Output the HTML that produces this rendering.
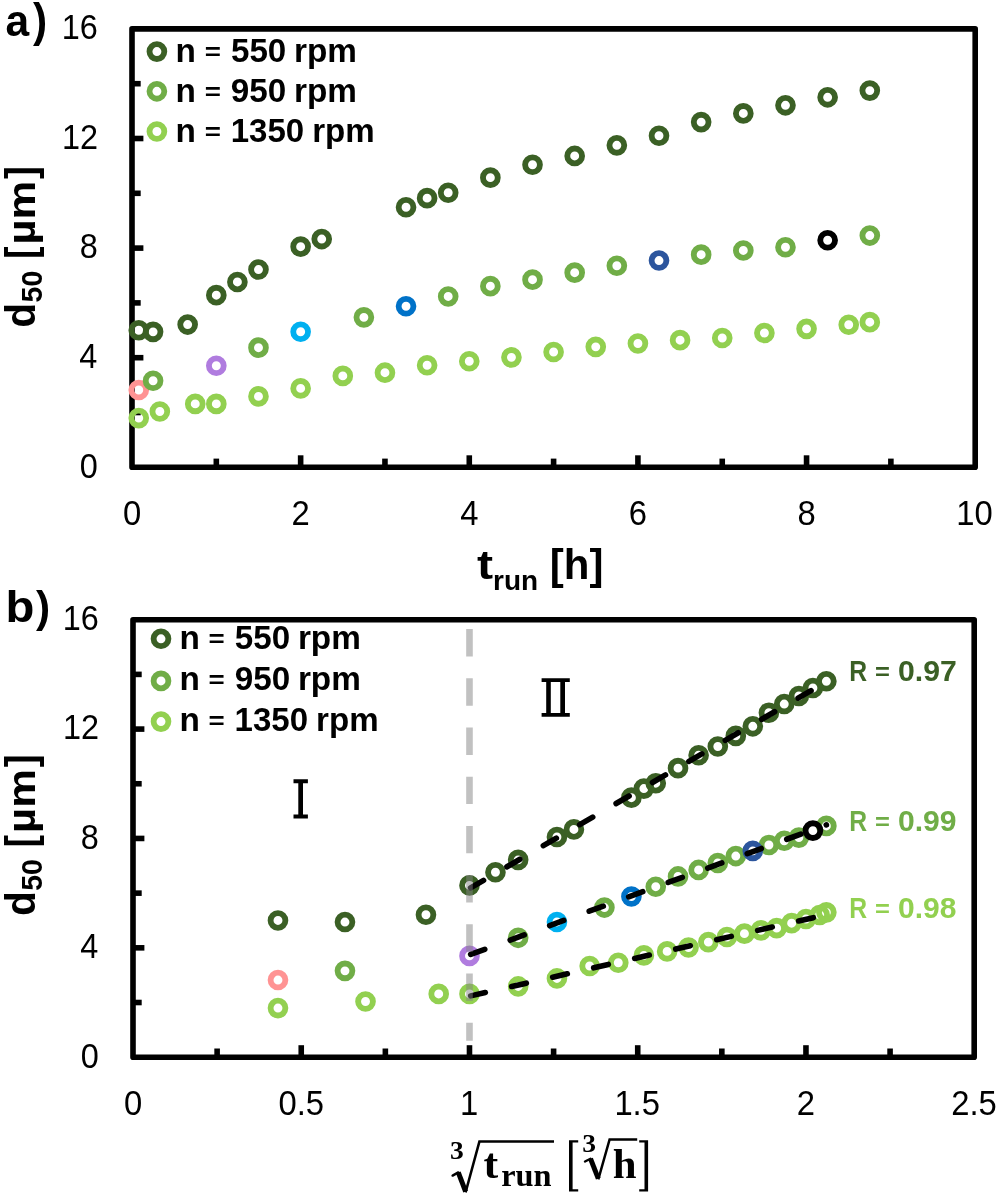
<!DOCTYPE html><html><head><meta charset="utf-8"><style>html,body{margin:0;padding:0;background:#fff;}svg{display:block;will-change:transform;}</style></head><body><svg width="997" height="1194" viewBox="0 0 997 1194" style="font-kerning:none">
<rect width="997" height="1194" fill="#fff"/>
<line x1="132.00" y1="412.50" x2="140.70" y2="412.50" stroke="#000" stroke-width="5.6"/>
<line x1="132.00" y1="357.70" x2="143.40" y2="357.70" stroke="#000" stroke-width="5.6"/>
<line x1="132.00" y1="302.90" x2="140.70" y2="302.90" stroke="#000" stroke-width="5.6"/>
<line x1="132.00" y1="248.10" x2="143.40" y2="248.10" stroke="#000" stroke-width="5.6"/>
<line x1="132.00" y1="193.30" x2="140.70" y2="193.30" stroke="#000" stroke-width="5.6"/>
<line x1="132.00" y1="138.50" x2="143.40" y2="138.50" stroke="#000" stroke-width="5.6"/>
<line x1="132.00" y1="83.70" x2="140.70" y2="83.70" stroke="#000" stroke-width="5.6"/>
<line x1="216.32" y1="467.30" x2="216.32" y2="458.60" stroke="#000" stroke-width="5.6"/>
<line x1="300.64" y1="467.30" x2="300.64" y2="455.30" stroke="#000" stroke-width="5.6"/>
<line x1="384.96" y1="467.30" x2="384.96" y2="458.60" stroke="#000" stroke-width="5.6"/>
<line x1="469.28" y1="467.30" x2="469.28" y2="455.30" stroke="#000" stroke-width="5.6"/>
<line x1="553.60" y1="467.30" x2="553.60" y2="458.60" stroke="#000" stroke-width="5.6"/>
<line x1="637.92" y1="467.30" x2="637.92" y2="455.30" stroke="#000" stroke-width="5.6"/>
<line x1="722.24" y1="467.30" x2="722.24" y2="458.60" stroke="#000" stroke-width="5.6"/>
<line x1="806.56" y1="467.30" x2="806.56" y2="455.30" stroke="#000" stroke-width="5.6"/>
<line x1="890.88" y1="467.30" x2="890.88" y2="458.60" stroke="#000" stroke-width="5.6"/>
<rect x="132.0" y="28.9" width="843.20" height="438.40" fill="none" stroke="#000" stroke-width="5.6" stroke-linejoin="round"/>
<text x="5.55" y="35.90" font-family="'Liberation Sans', sans-serif" font-size="44" font-weight="bold" fill="#000" textLength="23.68" lengthAdjust="spacingAndGlyphs">a</text>
<text x="32.96" y="35.90" font-family="'Liberation Sans', sans-serif" font-size="45.5" font-weight="bold" fill="#000" textLength="14.16" lengthAdjust="spacingAndGlyphs">)</text>
<text x="79.63" y="477.60" font-family="'Liberation Sans', sans-serif" font-size="34.5" font-weight="normal" fill="#000" textLength="18.04" lengthAdjust="spacingAndGlyphs">0</text>
<text x="79.31" y="368.00" font-family="'Liberation Sans', sans-serif" font-size="34.5" font-weight="normal" fill="#000" textLength="18.04" lengthAdjust="spacingAndGlyphs">4</text>
<text x="79.77" y="258.40" font-family="'Liberation Sans', sans-serif" font-size="34.5" font-weight="normal" fill="#000" textLength="18.04" lengthAdjust="spacingAndGlyphs">8</text>
<text x="61.96" y="148.80" font-family="'Liberation Sans', sans-serif" font-size="34.5" font-weight="normal" fill="#000" textLength="36.07" lengthAdjust="spacingAndGlyphs">12</text>
<text x="61.75" y="39.20" font-family="'Liberation Sans', sans-serif" font-size="34.5" font-weight="normal" fill="#000" textLength="36.07" lengthAdjust="spacingAndGlyphs">16</text>
<text x="122.89" y="524.70" font-family="'Liberation Sans', sans-serif" font-size="34.5" font-weight="normal" fill="#000" textLength="18.23" lengthAdjust="spacingAndGlyphs">0</text>
<text x="291.53" y="524.70" font-family="'Liberation Sans', sans-serif" font-size="34.5" font-weight="normal" fill="#000" textLength="18.23" lengthAdjust="spacingAndGlyphs">2</text>
<text x="460.27" y="524.70" font-family="'Liberation Sans', sans-serif" font-size="34.5" font-weight="normal" fill="#000" textLength="18.23" lengthAdjust="spacingAndGlyphs">4</text>
<text x="628.69" y="524.70" font-family="'Liberation Sans', sans-serif" font-size="34.5" font-weight="normal" fill="#000" textLength="18.23" lengthAdjust="spacingAndGlyphs">6</text>
<text x="797.45" y="524.70" font-family="'Liberation Sans', sans-serif" font-size="34.5" font-weight="normal" fill="#000" textLength="18.23" lengthAdjust="spacingAndGlyphs">8</text>
<text x="956.36" y="524.70" font-family="'Liberation Sans', sans-serif" font-size="34.5" font-weight="normal" fill="#000" textLength="36.46" lengthAdjust="spacingAndGlyphs">10</text>
<text x="477.11" y="579.30" font-family="'Liberation Sans', sans-serif" font-size="40.5" font-weight="bold" fill="#000" textLength="16.08" lengthAdjust="spacingAndGlyphs">t</text>
<text x="493.06" y="590.20" font-family="'Liberation Sans', sans-serif" font-size="28.5" font-weight="bold" fill="#000" textLength="45.08" lengthAdjust="spacingAndGlyphs">run</text>
<text x="549.84" y="579.00" font-family="'Liberation Sans', sans-serif" font-size="42" font-weight="bold" fill="#000" textLength="53.62" lengthAdjust="spacingAndGlyphs">[h]</text>
<text x="-327.67" y="35.00" font-family="'Liberation Sans', sans-serif" font-size="42" font-weight="bold" fill="#000" textLength="24.85" lengthAdjust="spacingAndGlyphs" transform="rotate(-90)">d</text>
<text x="-302.38" y="42.20" font-family="'Liberation Sans', sans-serif" font-size="28.6" font-weight="bold" fill="#000" textLength="31.64" lengthAdjust="spacingAndGlyphs" transform="rotate(-90)">50</text>
<text x="-258.76" y="34.80" font-family="'Liberation Sans', sans-serif" font-size="42" font-weight="bold" fill="#000" textLength="12.21" lengthAdjust="spacingAndGlyphs" transform="rotate(-90)">[</text>
<text x="-244.56" y="34.80" font-family="'Liberation Sans', sans-serif" font-size="38.5" font-weight="bold" fill="#000" textLength="63.96" lengthAdjust="spacingAndGlyphs" transform="rotate(-90)">µm</text>
<text x="-178.97" y="34.80" font-family="'Liberation Sans', sans-serif" font-size="42" font-weight="bold" fill="#000" textLength="12.83" lengthAdjust="spacingAndGlyphs" transform="rotate(-90)">]</text>
<circle cx="156.90" cy="51.60" r="7.4" fill="none" stroke="#3B6025" stroke-width="5.85"/>
<text x="175.60" y="61.70" font-family="'Liberation Sans', sans-serif" font-size="32.5" font-weight="bold" fill="#000" textLength="20.37" lengthAdjust="spacingAndGlyphs">n</text>
<text x="204.65" y="59.67" font-family="'Liberation Sans', sans-serif" font-size="23.02" font-weight="bold" fill="#000" textLength="16.19" lengthAdjust="spacingAndGlyphs">=</text>
<text x="230.98" y="61.70" font-family="'Liberation Sans', sans-serif" font-size="32.5" font-weight="bold" fill="#000" textLength="55.28" lengthAdjust="spacingAndGlyphs">550</text>
<text x="294.00" y="61.70" font-family="'Liberation Sans', sans-serif" font-size="32.5" font-weight="bold" fill="#000" textLength="62.96" lengthAdjust="spacingAndGlyphs">rpm</text>
<circle cx="156.90" cy="91.30" r="7.4" fill="none" stroke="#70AD47" stroke-width="5.85"/>
<text x="175.60" y="101.70" font-family="'Liberation Sans', sans-serif" font-size="32.5" font-weight="bold" fill="#000" textLength="20.37" lengthAdjust="spacingAndGlyphs">n</text>
<text x="204.65" y="99.67" font-family="'Liberation Sans', sans-serif" font-size="23.02" font-weight="bold" fill="#000" textLength="16.19" lengthAdjust="spacingAndGlyphs">=</text>
<text x="230.85" y="101.70" font-family="'Liberation Sans', sans-serif" font-size="32.5" font-weight="bold" fill="#000" textLength="55.41" lengthAdjust="spacingAndGlyphs">950</text>
<text x="294.00" y="101.70" font-family="'Liberation Sans', sans-serif" font-size="32.5" font-weight="bold" fill="#000" textLength="62.96" lengthAdjust="spacingAndGlyphs">rpm</text>
<circle cx="156.90" cy="131.50" r="7.4" fill="none" stroke="#92D050" stroke-width="5.85"/>
<text x="175.60" y="141.70" font-family="'Liberation Sans', sans-serif" font-size="32.5" font-weight="bold" fill="#000" textLength="20.37" lengthAdjust="spacingAndGlyphs">n</text>
<text x="204.65" y="139.67" font-family="'Liberation Sans', sans-serif" font-size="23.02" font-weight="bold" fill="#000" textLength="16.19" lengthAdjust="spacingAndGlyphs">=</text>
<text x="230.72" y="141.70" font-family="'Liberation Sans', sans-serif" font-size="32.5" font-weight="bold" fill="#000" textLength="73.43" lengthAdjust="spacingAndGlyphs">1350</text>
<text x="312.22" y="141.70" font-family="'Liberation Sans', sans-serif" font-size="32.5" font-weight="bold" fill="#000" textLength="62.53" lengthAdjust="spacingAndGlyphs">rpm</text>
<circle cx="138.75" cy="330.27" r="7.4" fill="none" stroke="#3B6025" stroke-width="5.85"/>
<circle cx="153.08" cy="331.87" r="7.4" fill="none" stroke="#3B6025" stroke-width="5.85"/>
<circle cx="187.65" cy="324.57" r="7.4" fill="none" stroke="#3B6025" stroke-width="5.85"/>
<circle cx="216.32" cy="295.16" r="7.4" fill="none" stroke="#3B6025" stroke-width="5.85"/>
<circle cx="237.40" cy="281.96" r="7.4" fill="none" stroke="#3B6025" stroke-width="5.85"/>
<circle cx="258.48" cy="269.55" r="7.4" fill="none" stroke="#3B6025" stroke-width="5.85"/>
<circle cx="300.64" cy="246.65" r="7.4" fill="none" stroke="#3B6025" stroke-width="5.85"/>
<circle cx="321.72" cy="239.05" r="7.4" fill="none" stroke="#3B6025" stroke-width="5.85"/>
<circle cx="406.04" cy="207.24" r="7.4" fill="none" stroke="#3B6025" stroke-width="5.85"/>
<circle cx="427.12" cy="198.14" r="7.4" fill="none" stroke="#3B6025" stroke-width="5.85"/>
<circle cx="448.20" cy="192.74" r="7.4" fill="none" stroke="#3B6025" stroke-width="5.85"/>
<circle cx="490.36" cy="177.63" r="7.4" fill="none" stroke="#3B6025" stroke-width="5.85"/>
<circle cx="532.52" cy="164.73" r="7.4" fill="none" stroke="#3B6025" stroke-width="5.85"/>
<circle cx="574.68" cy="155.93" r="7.4" fill="none" stroke="#3B6025" stroke-width="5.85"/>
<circle cx="616.84" cy="145.33" r="7.4" fill="none" stroke="#3B6025" stroke-width="5.85"/>
<circle cx="659.00" cy="135.72" r="7.4" fill="none" stroke="#3B6025" stroke-width="5.85"/>
<circle cx="701.16" cy="122.12" r="7.4" fill="none" stroke="#3B6025" stroke-width="5.85"/>
<circle cx="743.32" cy="113.42" r="7.4" fill="none" stroke="#3B6025" stroke-width="5.85"/>
<circle cx="785.48" cy="105.32" r="7.4" fill="none" stroke="#3B6025" stroke-width="5.85"/>
<circle cx="827.64" cy="97.32" r="7.4" fill="none" stroke="#3B6025" stroke-width="5.85"/>
<circle cx="869.80" cy="90.61" r="7.4" fill="none" stroke="#3B6025" stroke-width="5.85"/>
<circle cx="138.75" cy="418.09" r="7.4" fill="none" stroke="#92D050" stroke-width="5.85"/>
<circle cx="159.83" cy="411.49" r="7.4" fill="none" stroke="#92D050" stroke-width="5.85"/>
<circle cx="195.24" cy="403.89" r="7.4" fill="none" stroke="#92D050" stroke-width="5.85"/>
<circle cx="216.32" cy="403.89" r="7.4" fill="none" stroke="#92D050" stroke-width="5.85"/>
<circle cx="258.48" cy="396.38" r="7.4" fill="none" stroke="#92D050" stroke-width="5.85"/>
<circle cx="300.64" cy="388.38" r="7.4" fill="none" stroke="#92D050" stroke-width="5.85"/>
<circle cx="342.80" cy="375.88" r="7.4" fill="none" stroke="#92D050" stroke-width="5.85"/>
<circle cx="384.96" cy="372.68" r="7.4" fill="none" stroke="#92D050" stroke-width="5.85"/>
<circle cx="427.12" cy="365.28" r="7.4" fill="none" stroke="#92D050" stroke-width="5.85"/>
<circle cx="469.28" cy="361.28" r="7.4" fill="none" stroke="#92D050" stroke-width="5.85"/>
<circle cx="511.44" cy="357.37" r="7.4" fill="none" stroke="#92D050" stroke-width="5.85"/>
<circle cx="553.60" cy="351.97" r="7.4" fill="none" stroke="#92D050" stroke-width="5.85"/>
<circle cx="595.76" cy="346.87" r="7.4" fill="none" stroke="#92D050" stroke-width="5.85"/>
<circle cx="637.92" cy="343.47" r="7.4" fill="none" stroke="#92D050" stroke-width="5.85"/>
<circle cx="680.08" cy="340.17" r="7.4" fill="none" stroke="#92D050" stroke-width="5.85"/>
<circle cx="722.24" cy="337.97" r="7.4" fill="none" stroke="#92D050" stroke-width="5.85"/>
<circle cx="764.40" cy="332.97" r="7.4" fill="none" stroke="#92D050" stroke-width="5.85"/>
<circle cx="806.56" cy="328.87" r="7.4" fill="none" stroke="#92D050" stroke-width="5.85"/>
<circle cx="848.72" cy="324.77" r="7.4" fill="none" stroke="#92D050" stroke-width="5.85"/>
<circle cx="869.80" cy="322.17" r="7.4" fill="none" stroke="#92D050" stroke-width="5.85"/>
<circle cx="138.75" cy="389.98" r="7.4" fill="none" stroke="#FF9393" stroke-width="5.85"/>
<circle cx="153.08" cy="380.78" r="7.4" fill="none" stroke="#70AD47" stroke-width="5.85"/>
<circle cx="216.32" cy="365.78" r="7.4" fill="none" stroke="#B07CDF" stroke-width="5.85"/>
<circle cx="258.48" cy="347.67" r="7.4" fill="none" stroke="#70AD47" stroke-width="5.85"/>
<circle cx="300.64" cy="331.77" r="7.4" fill="none" stroke="#00B0F0" stroke-width="5.85"/>
<circle cx="363.88" cy="317.37" r="7.4" fill="none" stroke="#70AD47" stroke-width="5.85"/>
<circle cx="406.04" cy="306.26" r="7.4" fill="none" stroke="#0072C8" stroke-width="5.85"/>
<circle cx="448.20" cy="296.46" r="7.4" fill="none" stroke="#70AD47" stroke-width="5.85"/>
<circle cx="490.36" cy="286.16" r="7.4" fill="none" stroke="#70AD47" stroke-width="5.85"/>
<circle cx="532.52" cy="279.66" r="7.4" fill="none" stroke="#70AD47" stroke-width="5.85"/>
<circle cx="574.68" cy="272.66" r="7.4" fill="none" stroke="#70AD47" stroke-width="5.85"/>
<circle cx="616.84" cy="265.75" r="7.4" fill="none" stroke="#70AD47" stroke-width="5.85"/>
<circle cx="659.00" cy="260.55" r="7.4" fill="none" stroke="#2C559D" stroke-width="5.85"/>
<circle cx="701.16" cy="254.65" r="7.4" fill="none" stroke="#70AD47" stroke-width="5.85"/>
<circle cx="743.32" cy="250.45" r="7.4" fill="none" stroke="#70AD47" stroke-width="5.85"/>
<circle cx="785.48" cy="247.25" r="7.4" fill="none" stroke="#70AD47" stroke-width="5.85"/>
<circle cx="827.64" cy="240.25" r="7.4" fill="none" stroke="#000000" stroke-width="5.85"/>
<circle cx="869.80" cy="235.55" r="7.4" fill="none" stroke="#70AD47" stroke-width="5.85"/>
<line x1="133.00" y1="1002.51" x2="141.70" y2="1002.51" stroke="#000" stroke-width="5.6"/>
<line x1="133.00" y1="947.83" x2="144.40" y2="947.83" stroke="#000" stroke-width="5.6"/>
<line x1="133.00" y1="893.14" x2="141.70" y2="893.14" stroke="#000" stroke-width="5.6"/>
<line x1="133.00" y1="838.45" x2="144.40" y2="838.45" stroke="#000" stroke-width="5.6"/>
<line x1="133.00" y1="783.76" x2="141.70" y2="783.76" stroke="#000" stroke-width="5.6"/>
<line x1="133.00" y1="729.08" x2="144.40" y2="729.08" stroke="#000" stroke-width="5.6"/>
<line x1="133.00" y1="674.39" x2="141.70" y2="674.39" stroke="#000" stroke-width="5.6"/>
<line x1="217.12" y1="1057.20" x2="217.12" y2="1048.50" stroke="#000" stroke-width="5.6"/>
<line x1="301.24" y1="1057.20" x2="301.24" y2="1045.20" stroke="#000" stroke-width="5.6"/>
<line x1="385.36" y1="1057.20" x2="385.36" y2="1048.50" stroke="#000" stroke-width="5.6"/>
<line x1="469.48" y1="1057.20" x2="469.48" y2="1045.20" stroke="#000" stroke-width="5.6"/>
<line x1="553.60" y1="1057.20" x2="553.60" y2="1048.50" stroke="#000" stroke-width="5.6"/>
<line x1="637.72" y1="1057.20" x2="637.72" y2="1045.20" stroke="#000" stroke-width="5.6"/>
<line x1="721.84" y1="1057.20" x2="721.84" y2="1048.50" stroke="#000" stroke-width="5.6"/>
<line x1="805.96" y1="1057.20" x2="805.96" y2="1045.20" stroke="#000" stroke-width="5.6"/>
<line x1="890.08" y1="1057.20" x2="890.08" y2="1048.50" stroke="#000" stroke-width="5.6"/>
<rect x="133.0" y="619.7" width="841.20" height="437.50" fill="none" stroke="#000" stroke-width="5.6" stroke-linejoin="round"/>
<text x="5.49" y="622.00" font-family="'Liberation Sans', sans-serif" font-size="44" font-weight="bold" fill="#000" textLength="28.85" lengthAdjust="spacingAndGlyphs">b</text>
<text x="35.96" y="621.80" font-family="'Liberation Sans', sans-serif" font-size="44.6" font-weight="bold" fill="#000" textLength="14.16" lengthAdjust="spacingAndGlyphs">)</text>
<text x="80.63" y="1067.50" font-family="'Liberation Sans', sans-serif" font-size="34.5" font-weight="normal" fill="#000" textLength="18.04" lengthAdjust="spacingAndGlyphs">0</text>
<text x="80.31" y="958.12" font-family="'Liberation Sans', sans-serif" font-size="34.5" font-weight="normal" fill="#000" textLength="18.04" lengthAdjust="spacingAndGlyphs">4</text>
<text x="80.77" y="848.75" font-family="'Liberation Sans', sans-serif" font-size="34.5" font-weight="normal" fill="#000" textLength="18.04" lengthAdjust="spacingAndGlyphs">8</text>
<text x="62.96" y="739.38" font-family="'Liberation Sans', sans-serif" font-size="34.5" font-weight="normal" fill="#000" textLength="36.07" lengthAdjust="spacingAndGlyphs">12</text>
<text x="62.75" y="630.00" font-family="'Liberation Sans', sans-serif" font-size="34.5" font-weight="normal" fill="#000" textLength="36.07" lengthAdjust="spacingAndGlyphs">16</text>
<text x="123.89" y="1114.70" font-family="'Liberation Sans', sans-serif" font-size="34.5" font-weight="normal" fill="#000" textLength="18.23" lengthAdjust="spacingAndGlyphs">0</text>
<text x="278.51" y="1114.70" font-family="'Liberation Sans', sans-serif" font-size="34.5" font-weight="normal" fill="#000" textLength="45.56" lengthAdjust="spacingAndGlyphs">0.5</text>
<text x="459.92" y="1114.70" font-family="'Liberation Sans', sans-serif" font-size="34.5" font-weight="normal" fill="#000" textLength="18.23" lengthAdjust="spacingAndGlyphs">1</text>
<text x="614.38" y="1114.70" font-family="'Liberation Sans', sans-serif" font-size="34.5" font-weight="normal" fill="#000" textLength="45.56" lengthAdjust="spacingAndGlyphs">1.5</text>
<text x="796.85" y="1114.70" font-family="'Liberation Sans', sans-serif" font-size="34.5" font-weight="normal" fill="#000" textLength="18.23" lengthAdjust="spacingAndGlyphs">2</text>
<text x="951.28" y="1114.70" font-family="'Liberation Sans', sans-serif" font-size="34.5" font-weight="normal" fill="#000" textLength="45.56" lengthAdjust="spacingAndGlyphs">2.5</text>
<text x="-916.07" y="35.00" font-family="'Liberation Sans', sans-serif" font-size="42" font-weight="bold" fill="#000" textLength="24.85" lengthAdjust="spacingAndGlyphs" transform="rotate(-90)">d</text>
<text x="-890.78" y="42.20" font-family="'Liberation Sans', sans-serif" font-size="28.6" font-weight="bold" fill="#000" textLength="31.64" lengthAdjust="spacingAndGlyphs" transform="rotate(-90)">50</text>
<text x="-847.16" y="34.80" font-family="'Liberation Sans', sans-serif" font-size="42" font-weight="bold" fill="#000" textLength="12.21" lengthAdjust="spacingAndGlyphs" transform="rotate(-90)">[</text>
<text x="-832.96" y="34.80" font-family="'Liberation Sans', sans-serif" font-size="38.5" font-weight="bold" fill="#000" textLength="63.96" lengthAdjust="spacingAndGlyphs" transform="rotate(-90)">µm</text>
<text x="-767.37" y="34.80" font-family="'Liberation Sans', sans-serif" font-size="42" font-weight="bold" fill="#000" textLength="12.83" lengthAdjust="spacingAndGlyphs" transform="rotate(-90)">]</text>
<circle cx="161.00" cy="638.80" r="7.4" fill="none" stroke="#3B6025" stroke-width="5.85"/>
<text x="179.50" y="649.10" font-family="'Liberation Sans', sans-serif" font-size="32.5" font-weight="bold" fill="#000" textLength="20.37" lengthAdjust="spacingAndGlyphs">n</text>
<text x="208.55" y="647.07" font-family="'Liberation Sans', sans-serif" font-size="23.02" font-weight="bold" fill="#000" textLength="16.19" lengthAdjust="spacingAndGlyphs">=</text>
<text x="234.88" y="649.10" font-family="'Liberation Sans', sans-serif" font-size="32.5" font-weight="bold" fill="#000" textLength="55.28" lengthAdjust="spacingAndGlyphs">550</text>
<text x="297.90" y="649.10" font-family="'Liberation Sans', sans-serif" font-size="32.5" font-weight="bold" fill="#000" textLength="62.96" lengthAdjust="spacingAndGlyphs">rpm</text>
<circle cx="161.00" cy="680.90" r="7.4" fill="none" stroke="#70AD47" stroke-width="5.85"/>
<text x="179.50" y="690.40" font-family="'Liberation Sans', sans-serif" font-size="32.5" font-weight="bold" fill="#000" textLength="20.37" lengthAdjust="spacingAndGlyphs">n</text>
<text x="208.55" y="688.37" font-family="'Liberation Sans', sans-serif" font-size="23.02" font-weight="bold" fill="#000" textLength="16.19" lengthAdjust="spacingAndGlyphs">=</text>
<text x="234.75" y="690.40" font-family="'Liberation Sans', sans-serif" font-size="32.5" font-weight="bold" fill="#000" textLength="55.41" lengthAdjust="spacingAndGlyphs">950</text>
<text x="297.90" y="690.40" font-family="'Liberation Sans', sans-serif" font-size="32.5" font-weight="bold" fill="#000" textLength="62.96" lengthAdjust="spacingAndGlyphs">rpm</text>
<circle cx="161.00" cy="721.60" r="7.4" fill="none" stroke="#92D050" stroke-width="5.85"/>
<text x="179.50" y="731.10" font-family="'Liberation Sans', sans-serif" font-size="32.5" font-weight="bold" fill="#000" textLength="20.37" lengthAdjust="spacingAndGlyphs">n</text>
<text x="208.55" y="729.07" font-family="'Liberation Sans', sans-serif" font-size="23.02" font-weight="bold" fill="#000" textLength="16.19" lengthAdjust="spacingAndGlyphs">=</text>
<text x="234.62" y="731.10" font-family="'Liberation Sans', sans-serif" font-size="32.5" font-weight="bold" fill="#000" textLength="73.43" lengthAdjust="spacingAndGlyphs">1350</text>
<text x="316.12" y="731.10" font-family="'Liberation Sans', sans-serif" font-size="32.5" font-weight="bold" fill="#000" textLength="62.53" lengthAdjust="spacingAndGlyphs">rpm</text>
<circle cx="277.98" cy="920.45" r="7.4" fill="none" stroke="#3B6025" stroke-width="5.85"/>
<circle cx="344.97" cy="922.05" r="7.4" fill="none" stroke="#3B6025" stroke-width="5.85"/>
<circle cx="425.96" cy="914.76" r="7.4" fill="none" stroke="#3B6025" stroke-width="5.85"/>
<circle cx="469.48" cy="885.41" r="7.4" fill="none" stroke="#3B6025" stroke-width="5.85"/>
<circle cx="495.46" cy="872.24" r="7.4" fill="none" stroke="#3B6025" stroke-width="5.85"/>
<circle cx="518.17" cy="859.86" r="7.4" fill="none" stroke="#3B6025" stroke-width="5.85"/>
<circle cx="556.94" cy="837.00" r="7.4" fill="none" stroke="#3B6025" stroke-width="5.85"/>
<circle cx="573.91" cy="829.42" r="7.4" fill="none" stroke="#3B6025" stroke-width="5.85"/>
<circle cx="631.41" cy="797.67" r="7.4" fill="none" stroke="#3B6025" stroke-width="5.85"/>
<circle cx="643.88" cy="788.59" r="7.4" fill="none" stroke="#3B6025" stroke-width="5.85"/>
<circle cx="655.76" cy="783.20" r="7.4" fill="none" stroke="#3B6025" stroke-width="5.85"/>
<circle cx="678.03" cy="768.13" r="7.4" fill="none" stroke="#3B6025" stroke-width="5.85"/>
<circle cx="698.62" cy="755.25" r="7.4" fill="none" stroke="#3B6025" stroke-width="5.85"/>
<circle cx="717.81" cy="746.47" r="7.4" fill="none" stroke="#3B6025" stroke-width="5.85"/>
<circle cx="735.81" cy="735.89" r="7.4" fill="none" stroke="#3B6025" stroke-width="5.85"/>
<circle cx="752.80" cy="726.31" r="7.4" fill="none" stroke="#3B6025" stroke-width="5.85"/>
<circle cx="768.91" cy="712.73" r="7.4" fill="none" stroke="#3B6025" stroke-width="5.85"/>
<circle cx="784.24" cy="704.05" r="7.4" fill="none" stroke="#3B6025" stroke-width="5.85"/>
<circle cx="798.88" cy="695.96" r="7.4" fill="none" stroke="#3B6025" stroke-width="5.85"/>
<circle cx="812.90" cy="687.98" r="7.4" fill="none" stroke="#3B6025" stroke-width="5.85"/>
<circle cx="826.37" cy="681.29" r="7.4" fill="none" stroke="#3B6025" stroke-width="5.85"/>
<circle cx="277.98" cy="1008.09" r="7.4" fill="none" stroke="#92D050" stroke-width="5.85"/>
<circle cx="365.52" cy="1001.50" r="7.4" fill="none" stroke="#92D050" stroke-width="5.85"/>
<circle cx="438.71" cy="993.92" r="7.4" fill="none" stroke="#92D050" stroke-width="5.85"/>
<circle cx="469.48" cy="993.92" r="7.4" fill="none" stroke="#92D050" stroke-width="5.85"/>
<circle cx="518.17" cy="986.43" r="7.4" fill="none" stroke="#92D050" stroke-width="5.85"/>
<circle cx="556.94" cy="978.44" r="7.4" fill="none" stroke="#92D050" stroke-width="5.85"/>
<circle cx="589.67" cy="965.97" r="7.4" fill="none" stroke="#92D050" stroke-width="5.85"/>
<circle cx="618.29" cy="962.77" r="7.4" fill="none" stroke="#92D050" stroke-width="5.85"/>
<circle cx="643.88" cy="955.39" r="7.4" fill="none" stroke="#92D050" stroke-width="5.85"/>
<circle cx="667.13" cy="951.39" r="7.4" fill="none" stroke="#92D050" stroke-width="5.85"/>
<circle cx="688.52" cy="947.50" r="7.4" fill="none" stroke="#92D050" stroke-width="5.85"/>
<circle cx="708.37" cy="942.11" r="7.4" fill="none" stroke="#92D050" stroke-width="5.85"/>
<circle cx="726.95" cy="937.02" r="7.4" fill="none" stroke="#92D050" stroke-width="5.85"/>
<circle cx="744.42" cy="933.63" r="7.4" fill="none" stroke="#92D050" stroke-width="5.85"/>
<circle cx="760.96" cy="930.33" r="7.4" fill="none" stroke="#92D050" stroke-width="5.85"/>
<circle cx="776.66" cy="928.14" r="7.4" fill="none" stroke="#92D050" stroke-width="5.85"/>
<circle cx="791.64" cy="923.15" r="7.4" fill="none" stroke="#92D050" stroke-width="5.85"/>
<circle cx="805.96" cy="919.05" r="7.4" fill="none" stroke="#92D050" stroke-width="5.85"/>
<circle cx="819.70" cy="914.96" r="7.4" fill="none" stroke="#92D050" stroke-width="5.85"/>
<circle cx="826.37" cy="912.36" r="7.4" fill="none" stroke="#92D050" stroke-width="5.85"/>
<circle cx="344.97" cy="970.86" r="7.4" fill="none" stroke="#70AD47" stroke-width="5.85"/>
<circle cx="518.17" cy="937.82" r="7.4" fill="none" stroke="#70AD47" stroke-width="5.85"/>
<circle cx="604.42" cy="907.57" r="7.4" fill="none" stroke="#70AD47" stroke-width="5.85"/>
<circle cx="655.76" cy="886.71" r="7.4" fill="none" stroke="#70AD47" stroke-width="5.85"/>
<circle cx="678.03" cy="876.43" r="7.4" fill="none" stroke="#70AD47" stroke-width="5.85"/>
<circle cx="698.62" cy="869.94" r="7.4" fill="none" stroke="#70AD47" stroke-width="5.85"/>
<circle cx="717.81" cy="862.96" r="7.4" fill="none" stroke="#70AD47" stroke-width="5.85"/>
<circle cx="735.81" cy="856.07" r="7.4" fill="none" stroke="#70AD47" stroke-width="5.85"/>
<circle cx="768.91" cy="844.99" r="7.4" fill="none" stroke="#70AD47" stroke-width="5.85"/>
<circle cx="784.24" cy="840.80" r="7.4" fill="none" stroke="#70AD47" stroke-width="5.85"/>
<circle cx="798.88" cy="837.60" r="7.4" fill="none" stroke="#70AD47" stroke-width="5.85"/>
<circle cx="826.37" cy="825.92" r="7.4" fill="none" stroke="#70AD47" stroke-width="5.85"/>
<circle cx="277.98" cy="980.04" r="7.4" fill="none" stroke="#FF9393" stroke-width="5.85"/>
<circle cx="469.48" cy="955.89" r="7.4" fill="none" stroke="#B07CDF" stroke-width="5.85"/>
<circle cx="556.94" cy="921.95" r="7.4" fill="none" stroke="#00B0F0" stroke-width="5.85"/>
<circle cx="631.41" cy="896.49" r="7.4" fill="none" stroke="#0072C8" stroke-width="5.85"/>
<circle cx="752.80" cy="850.88" r="7.4" fill="none" stroke="#2C559D" stroke-width="5.85"/>
<circle cx="812.90" cy="830.61" r="7.4" fill="none" stroke="#000000" stroke-width="5.85"/>
<line x1="469.48" y1="888.46" x2="826.37" y2="681.76" stroke="#000" stroke-width="5.6" stroke-linecap="round" stroke-dasharray="15 27.05" stroke-dashoffset="-1.25"/>
<line x1="469.48" y1="954.83" x2="826.37" y2="824.81" stroke="#000" stroke-width="5.6" stroke-linecap="round" stroke-dasharray="15 27.05" stroke-dashoffset="-1.25"/>
<line x1="469.48" y1="996.14" x2="826.37" y2="914.68" stroke="#000" stroke-width="5.6" stroke-linecap="round" stroke-dasharray="15 27.05" stroke-dashoffset="-1.25"/>
<line x1="469.48" y1="629.1" x2="469.48" y2="1040.7" stroke="#838383" stroke-opacity="0.5" stroke-width="6.6" stroke-dasharray="27.4 21.8"/>
<text x="849.35" y="680.90" font-family="'Liberation Sans', sans-serif" font-size="29.5" font-weight="bold" fill="#3B6025" textLength="17.86" lengthAdjust="spacingAndGlyphs">R</text>
<text x="875.14" y="679.90" font-family="'Liberation Sans', sans-serif" font-size="24.61" font-weight="bold" fill="#3B6025" textLength="14.91" lengthAdjust="spacingAndGlyphs">=</text>
<text x="898.00" y="680.90" font-family="'Liberation Sans', sans-serif" font-size="30.2" font-weight="bold" fill="#3B6025" textLength="58.82" lengthAdjust="spacingAndGlyphs">0.97</text>
<text x="849.35" y="830.90" font-family="'Liberation Sans', sans-serif" font-size="29.5" font-weight="bold" fill="#70AD47" textLength="17.86" lengthAdjust="spacingAndGlyphs">R</text>
<text x="875.14" y="829.90" font-family="'Liberation Sans', sans-serif" font-size="24.61" font-weight="bold" fill="#70AD47" textLength="14.91" lengthAdjust="spacingAndGlyphs">=</text>
<text x="898.01" y="830.90" font-family="'Liberation Sans', sans-serif" font-size="30.2" font-weight="bold" fill="#70AD47" textLength="58.61" lengthAdjust="spacingAndGlyphs">0.99</text>
<text x="849.35" y="917.80" font-family="'Liberation Sans', sans-serif" font-size="29.5" font-weight="bold" fill="#92D050" textLength="17.86" lengthAdjust="spacingAndGlyphs">R</text>
<text x="875.14" y="916.80" font-family="'Liberation Sans', sans-serif" font-size="24.61" font-weight="bold" fill="#92D050" textLength="14.91" lengthAdjust="spacingAndGlyphs">=</text>
<text x="898.01" y="917.80" font-family="'Liberation Sans', sans-serif" font-size="30.2" font-weight="bold" fill="#92D050" textLength="58.41" lengthAdjust="spacingAndGlyphs">0.98</text>
<path d="M293.5,779.3H307.9V783.1999999999999H303.0V814.5H307.9V818.4H293.5V814.5H298.3V783.1999999999999H293.5Z" fill="#000"/>
<path d="M541.6,678.3H569.8V682.0999999999999H565.0V713.0H569.8V716.8H541.6V713.0H546.2V682.0999999999999H541.6Z M550.8,682.0999999999999H560.3V713.0H550.8Z" fill="#000" fill-rule="evenodd"/>
<text x="449.96" y="1158.70" font-family="'Liberation Serif', serif" font-size="25" font-weight="bold" fill="#000" textLength="13.78" lengthAdjust="spacingAndGlyphs">3</text>
<path d="M452.6,1175.6 L458.3,1172.4" stroke="#000" stroke-width="2.4" stroke-linecap="round" fill="none"/>
<path d="M458.3,1172.4 L465.6,1191.6" stroke="#000" stroke-width="5" stroke-linecap="butt" fill="none"/>
<path d="M465.6,1192.4 L479.4,1141.6 H554.0" stroke="#000" stroke-width="2.5" stroke-linejoin="miter" fill="none"/>
<text x="483.49" y="1178.00" font-family="'Liberation Serif', serif" font-size="42" font-weight="bold" fill="#000" textLength="14.71" lengthAdjust="spacingAndGlyphs">t</text>
<text x="501.23" y="1186.00" font-family="'Liberation Serif', serif" font-size="30.8" font-weight="bold" fill="#000" textLength="50.36" lengthAdjust="spacingAndGlyphs">run</text>
<path d="M578.2,1140.2H569.0V1191.6H578.2V1189.3H572.6V1142.5H578.2Z" fill="#000"/>
<text x="582.36" y="1152.30" font-family="'Liberation Serif', serif" font-size="25" font-weight="bold" fill="#000" textLength="13.78" lengthAdjust="spacingAndGlyphs">3</text>
<path d="M585.0,1161.5 L590.5,1158.7" stroke="#000" stroke-width="2.4" stroke-linecap="round" fill="none"/>
<path d="M590.5,1158.7 L598.3,1178.6" stroke="#000" stroke-width="5" stroke-linecap="butt" fill="none"/>
<path d="M598.3,1179.4 L609.6,1139.5 H637.2" stroke="#000" stroke-width="2.5" stroke-linejoin="miter" fill="none"/>
<text x="612.83" y="1177.80" font-family="'Liberation Serif', serif" font-size="42" font-weight="bold" fill="#000" textLength="23.81" lengthAdjust="spacingAndGlyphs">h</text>
<path d="M639.2,1140.2H648.1V1191.6H639.2V1189.3H644.5V1142.5H639.2Z" fill="#000"/>
</svg></body></html>
